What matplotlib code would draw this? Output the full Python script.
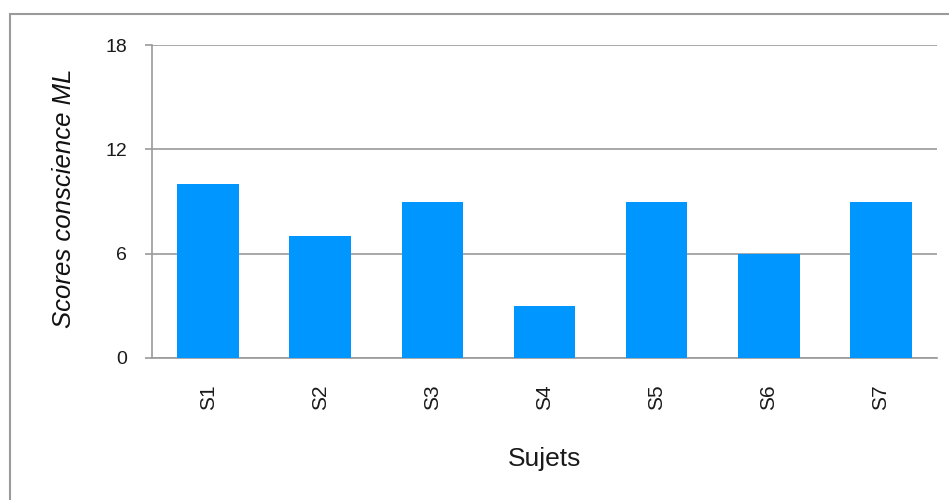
import matplotlib.pyplot as plt
from matplotlib.patches import Rectangle
import numpy as np

# scores per subject
subjects = ['S1', 'S2', 'S3', 'S4', 'S5', 'S6', 'S7']
scores = [10, 7, 9, 3, 9, 6, 9]
yticks = [0, 6, 12, 18]

plt.rcParams['font.family'] = ['Liberation Sans', 'DejaVu Sans']

fig = plt.figure(figsize=(9.49, 5.0), dpi=100)
fig.patch.set_facecolor('white')

# outer frame of the chart area
fig.patches.append(Rectangle((10 / 949, -0.2), 1.1, 1.2 - 14 / 500,
                             transform=fig.transFigure, fill=False,
                             edgecolor='#9a9a9a', linewidth=1.5, zorder=0))

ax = fig.add_axes([152 / 949, 1 - 358 / 500, 785 / 949, 313 / 500])

x = np.arange(len(subjects))
ax.bar(x, scores, width=0.55, color='#0096FF', zorder=3)

ax.set_xlim(-0.5, len(subjects) - 0.5)
ax.set_ylim(0, 18)
ax.set_yticks(yticks)
ax.set_yticklabels([str(v) for v in yticks])
ax.set_xticks(x)
ax.set_xticklabels(subjects, rotation=90)

ax.grid(axis='y', color='#9a9a9a', linewidth=1.2, zorder=1)
for s in ['top', 'right']:
    ax.spines[s].set_visible(False)
ax.spines['left'].set_color('#9a9a9a')
ax.spines['bottom'].set_color('#9a9a9a')
ax.spines['left'].set_linewidth(1.2)
ax.spines['bottom'].set_linewidth(1.2)

ax.tick_params(axis='y', length=5, width=1.2, color='#9a9a9a', pad=13,
               labelsize=14, labelcolor='#1a1a1a')
ax.tick_params(axis='x', length=0, pad=19, labelsize=15, labelcolor='#1a1a1a')

ax.set_ylabel('Scores conscience ML', fontsize=18.5, style='italic', color='#111111')
ax.yaxis.set_label_coords(-0.0965, 0.51)
ax.set_xlabel('Sujets', fontsize=19, color='#1a1a1a')
ax.xaxis.set_label_coords(0.5, -0.285)

fig.savefig('out.png', dpi=100, facecolor='white')
